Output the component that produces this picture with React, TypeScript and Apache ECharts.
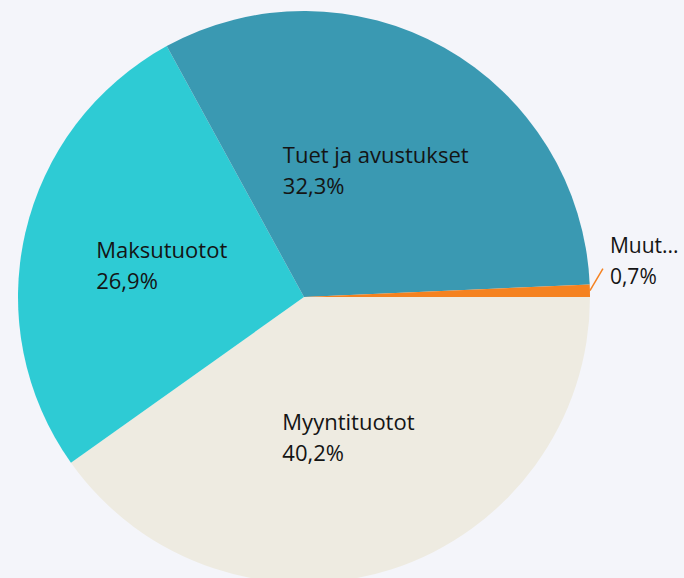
import React, { useEffect, useRef } from "react";
import * as echarts from "echarts";

const categories = ["Myyntituotot", "Maksutuotot", "Tuet ja avustukset", "Muut tuotot"];
const shares = [40.2, 26.9, 32.3, 0.7];
const colors = ["#eeebe1", "#2ecbd4", "#3a99b2", "#f58220"];
const shortNames = ["Myyntituotot", "Maksutuotot", "Tuet ja avustukset", "Muut..."];

const fmt = (v: number) => v.toFixed(1).replace(".", ",") + "%";

export default function App() {
  const ref = useRef<HTMLDivElement>(null);
  useEffect(() => {
    document.body.style.margin = "0";
    document.body.style.background = "#f4f5fa";
    const chart = echarts.init(ref.current!, undefined, { renderer: "svg" });
    const textStyle = {
      fontFamily: "'Open Sans', 'Noto Sans', sans-serif",
      fontSize: 22,
      color: "#141414",
      lineHeight: 31,
      align: "left" as const,
    };
    chart.setOption({
      animation: false,
      backgroundColor: "#f4f5fa",
      series: [
        {
          type: "pie",
          center: [304, 297],
          radius: [0, 286],
          startAngle: 0,
          clockwise: true,
          avoidLabelOverlap: false,
          itemStyle: { borderWidth: 0 },
          emphasis: { disabled: true },
          label: {
            position: "inside",
            formatter: (p: any) => `{n|${shortNames[p.dataIndex]}}\n{v|${fmt(p.value)}}`,
            rich: { n: textStyle, v: textStyle },
          },
          labelLine: { show: false },
          data: categories.map((name, i) => {
            const item: any = {
              name,
              value: shares[i],
              itemStyle: { color: colors[i] },
            };
            if (i === 3) {
              item.label = {
                position: "outside",
                distanceToLabelLine: 6,
                rich: {
                  n: { ...textStyle, fontSize: 21 },
                  v: { ...textStyle, fontSize: 21 },
                },
              };
              item.labelLine = {
                show: true,
                length: 6,
                length2: 0,
                lineStyle: { color: colors[3], width: 1.5 },
              };
            }
            return item;
          }),
          labelLayout: (params: any) => {
            if (params.dataIndex === 3 && params.labelLinePoints) {
              const p0 = params.labelLinePoints[0];
              return {
                dx: 8,
                dy: -30,
                labelLinePoints: [
                  [p0[0], p0[1]],
                  [p0[0] + 13, p0[1] - 22],
                ],
              };
            }
            return {};
          },
        },
      ],
    });
    return () => chart.dispose();
  }, []);
  return <div ref={ref} style={{ width: 684, height: 578 }} />;
}
